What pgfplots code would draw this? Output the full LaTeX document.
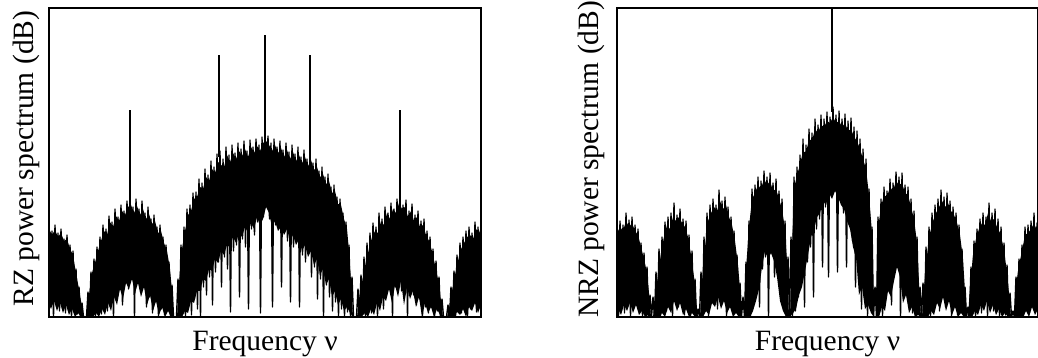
\documentclass[border=0pt]{standalone}
\usepackage{fontspec}
\setmainfont{Liberation Serif}
\usepackage{pgfplots}
\usepackage{pgfplotstable}
\pgfplotsset{compat=1.18}

% RZ spectrum (x, y in picture units; alternating local max / local min)
\pgfplotstableread[row sep=\\]{
x y\\
0 94\\ 1.5 10\\ 3 86\\ 4.5 0\\ 6 92\\ 7.5 15\\ 9 84\\ 10.5 6\\ 12 88\\ 13.5 20\\ 15 78\\ 16.5 4\\ 18 82\\ 19.5 12\\ 21 72\\ 22.5 0\\ 24 66\\ 25.5 10\\ 27 48\\ 28.5 3\\ 30 30\\ 31.5 0\\ 33 14\\ 34.5 0\\ 36 0\\ 37.5 0\\
39 25\\ 40.5 0\\ 42 45\\ 43.5 5\\ 45 58\\ 46.5 0\\ 48 70\\ 49.5 8\\ 51 80\\ 52.5 3\\ 54 92\\ 55.5 14\\ 57 88\\ 58.5 6\\ 60 101\\ 61.5 18\\ 63 95\\ 64.5 0\\ 66 108\\ 67.5 22\\ 69 100\\ 70.5 30\\ 72 112\\ 73.5 12\\ 75 106\\ 76.5 35\\ 78 116\\ 79.5 28\\ 81 124\\ 82.5 40\\ 84 110\\ 85.5 0\\ 87 118\\ 88.5 36\\ 90 108\\ 91.5 25\\ 93 116\\ 94.5 38\\ 96 104\\ 97.5 10\\ 99 110\\ 100.5 20\\ 102 98\\ 103.5 4\\ 105 102\\ 106.5 15\\ 108 90\\ 109.5 0\\ 111 92\\ 112.5 8\\ 114 80\\ 115.5 2\\ 117 72\\ 118.5 10\\ 120 55\\ 121.5 0\\ 123 32\\ 124.5 0\\ 126 0\\ 127.5 0\\
129 38\\ 130.5 0\\ 132 72\\ 133.5 4\\ 135 90\\ 136.5 0\\ 138 108\\ 139.5 10\\ 141 112\\ 142.5 2\\ 144 124\\ 145.5 18\\ 147 125\\ 148.5 8\\ 150 138\\ 151.5 0\\ 153 134\\ 154.5 30\\ 156 148\\ 157.5 22\\ 159 142\\ 160.5 40\\ 162 156\\ 163.5 12\\ 165 150\\ 166.5 45\\ 168 163\\ 169.5 55\\ 171 166\\ 172.5 30\\ 174 158\\ 175.5 60\\ 177 170\\ 178.5 48\\ 180 162\\ 181.5 5\\ 183 172\\ 184.5 66\\ 186 164\\ 187.5 72\\ 189 174\\ 190.5 20\\ 192 168\\ 193.5 78\\ 195 176\\ 196.5 70\\ 198 166\\ 199.5 8\\ 201 177\\ 202.5 88\\ 204 170\\ 205.5 82\\ 207 178\\ 208.5 95\\ 210 172\\ 211.5 4\\ 213 180\\ 214.5 100\\ 216 186\\ 217.5 122\\ 219 181\\ 220.5 98\\ 222 174\\ 223.5 10\\ 225 178\\ 226.5 92\\ 228 170\\ 229.5 110\\ 231 176\\ 232.5 30\\ 234 167\\ 235.5 84\\ 237 174\\ 238.5 76\\ 240 165\\ 241.5 15\\ 243 172\\ 244.5 70\\ 246 163\\ 247.5 74\\ 249 170\\ 250.5 10\\ 252 160\\ 253.5 62\\ 255 167\\ 256.5 55\\ 258 158\\ 259.5 64\\ 261 165\\ 262.5 40\\ 264 154\\ 265.5 50\\ 267 158\\ 268.5 18\\ 270 146\\ 271.5 38\\ 273 150\\ 274.5 0\\ 276 140\\ 277.5 32\\ 279 143\\ 280.5 20\\ 282 130\\ 283.5 6\\ 285 132\\ 286.5 15\\ 288 120\\ 289.5 0\\ 291 118\\ 292.5 8\\ 294 104\\ 295.5 0\\ 297 95\\ 298.5 5\\ 300 72\\ 301.5 0\\ 303 40\\ 304.5 0\\ 306 0\\ 307.5 0\\
309 28\\ 310.5 0\\ 312 42\\ 313.5 2\\ 315 60\\ 316.5 0\\ 318 74\\ 319.5 10\\ 321 84\\ 322.5 4\\ 324 94\\ 325.5 16\\ 327 90\\ 328.5 0\\ 330 104\\ 331.5 20\\ 333 98\\ 334.5 8\\ 336 110\\ 337.5 26\\ 339 104\\ 340.5 34\\ 342 114\\ 343.5 0\\ 345 108\\ 346.5 30\\ 348 118\\ 349.5 38\\ 351 124\\ 352.5 26\\ 354 112\\ 355.5 42\\ 357 117\\ 358.5 0\\ 360 106\\ 361.5 32\\ 363 113\\ 364.5 22\\ 366 102\\ 367.5 12\\ 369 106\\ 370.5 18\\ 372 96\\ 373.5 0\\ 375 98\\ 376.5 10\\ 378 86\\ 379.5 4\\ 381 80\\ 382.5 12\\ 384 68\\ 385.5 0\\ 387 56\\ 388.5 6\\ 390 40\\ 391.5 0\\ 393 18\\ 394.5 0\\ 396 0\\ 397.5 0\\
399 12\\ 400.5 0\\ 402 30\\ 403.5 2\\ 405 46\\ 406.5 0\\ 408 62\\ 409.5 10\\ 411 74\\ 412.5 4\\ 414 80\\ 415.5 14\\ 417 86\\ 418.5 0\\ 420 90\\ 421.5 8\\ 423 84\\ 424.5 16\\ 426 95\\ 427.5 5\\ 429 90\\ 430.5 12\\ 432 96\\
}\rzdata

% NRZ spectrum
\pgfplotstableread[row sep=\\]{
x y\\
0 90\\ 1.5 0\\ 3 96\\ 4.5 12\\ 6 92\\ 7.5 4\\ 9 104\\ 10.5 18\\ 12 97\\ 13.5 0\\ 15 100\\ 16.5 10\\ 18 92\\ 19.5 20\\ 21 88\\ 22.5 6\\ 24 74\\ 25.5 0\\ 27 64\\ 28.5 8\\ 30 50\\ 31.5 0\\ 33 22\\ 34.5 0\\
36 20\\ 37.5 0\\ 39 45\\ 40.5 4\\ 42 68\\ 43.5 0\\ 45 80\\ 46.5 14\\ 48 95\\ 49.5 6\\ 51 100\\ 52.5 20\\ 54 104\\ 55.5 0\\ 57 114\\ 58.5 24\\ 60 102\\ 61.5 10\\ 63 108\\ 64.5 18\\ 66 98\\ 67.5 2\\ 69 96\\ 70.5 12\\ 72 82\\ 73.5 0\\ 75 66\\ 76.5 6\\ 78 38\\ 79.5 0\\ 81 8\\ 82.5 0\\
84 45\\ 85.5 0\\ 87 80\\ 88.5 6\\ 90 104\\ 91.5 0\\ 93 112\\ 94.5 16\\ 96 118\\ 97.5 24\\ 99 112\\ 100.5 8\\ 102 127\\ 103.5 30\\ 105 116\\ 106.5 18\\ 108 120\\ 109.5 0\\ 111 110\\ 112.5 22\\ 114 100\\ 115.5 6\\ 117 86\\ 118.5 12\\ 120 62\\ 121.5 0\\ 123 34\\ 124.5 0\\
126 20\\ 127.5 0\\ 129 55\\ 130.5 4\\ 132 96\\ 133.5 0\\ 135 128\\ 136.5 15\\ 138 132\\ 139.5 30\\ 141 140\\ 142.5 10\\ 144 136\\ 145.5 48\\ 147 146\\ 148.5 60\\ 150 140\\ 151.5 0\\ 153 144\\ 154.5 66\\ 156 134\\ 157.5 40\\ 159 138\\ 160.5 55\\ 162 126\\ 163.5 20\\ 165 118\\ 166.5 8\\ 168 96\\ 169.5 0\\ 171 60\\ 172.5 0\\
174 80\\ 175.5 0\\ 177 140\\ 178.5 6\\ 180 150\\ 181.5 20\\ 183 162\\ 184.5 38\\ 186 178\\ 187.5 10\\ 189 172\\ 190.5 55\\ 192 188\\ 193.5 70\\ 195 184\\ 196.5 20\\ 198 198\\ 199.5 88\\ 201 192\\ 202.5 98\\ 204 202\\ 205.5 50\\ 207 198\\ 208.5 110\\ 210 205\\ 211.5 40\\ 213 200\\ 214.5 120\\ 216 210\\ 217.5 126\\ 219 202\\ 220.5 45\\ 222 206\\ 223.5 118\\ 225 198\\ 226.5 104\\ 228 203\\ 229.5 50\\ 231 196\\ 232.5 92\\ 234 199\\ 235.5 76\\ 237 190\\ 238.5 30\\ 240 186\\ 241.5 52\\ 243 178\\ 244.5 8\\ 246 168\\ 247.5 30\\ 249 158\\ 250.5 0\\ 252 128\\ 253.5 10\\ 255 90\\ 256.5 0\\
258 30\\ 259.5 0\\ 261 100\\ 262.5 6\\ 264 118\\ 265.5 0\\ 267 130\\ 268.5 24\\ 270 126\\ 271.5 40\\ 273 138\\ 274.5 12\\ 276 134\\ 277.5 58\\ 279 145\\ 280.5 66\\ 282 140\\ 283.5 0\\ 285 144\\ 286.5 50\\ 288 132\\ 289.5 36\\ 291 130\\ 292.5 14\\ 294 118\\ 295.5 4\\ 297 106\\ 298.5 0\\ 300 80\\ 301.5 6\\ 303 30\\ 304.5 0\\
306 34\\ 307.5 0\\ 309 70\\ 310.5 4\\ 312 90\\ 313.5 0\\ 315 104\\ 316.5 14\\ 318 112\\ 319.5 22\\ 321 118\\ 322.5 6\\ 324 127\\ 325.5 26\\ 327 120\\ 328.5 10\\ 330 124\\ 331.5 20\\ 333 116\\ 334.5 0\\ 336 110\\ 337.5 12\\ 339 104\\ 340.5 2\\ 342 92\\ 343.5 8\\ 345 68\\ 346.5 0\\ 348 30\\ 349.5 0\\
351 10\\ 352.5 0\\ 354 50\\ 355.5 2\\ 357 76\\ 358.5 0\\ 360 88\\ 361.5 12\\ 363 98\\ 364.5 4\\ 366 104\\ 367.5 18\\ 369 100\\ 370.5 0\\ 372 114\\ 373.5 14\\ 375 104\\ 376.5 6\\ 378 108\\ 379.5 20\\ 381 98\\ 382.5 0\\ 384 90\\ 385.5 10\\ 387 74\\ 388.5 2\\ 390 52\\ 391.5 0\\ 393 24\\ 394.5 0\\
396 6\\ 397.5 0\\ 399 40\\ 400.5 0\\ 402 58\\ 403.5 6\\ 405 72\\ 406.5 0\\ 408 90\\ 409.5 12\\ 411 92\\ 412.5 4\\ 414 96\\ 415.5 16\\ 417 104\\ 418.5 8\\ 420 94\\ 421.5 90\\
}\nrzdata

\pgfplotsset{
  specaxis/.style={
    scale only axis, height=154.5pt,
    ymin=0, ymax=309,
    xtick=\empty, ytick=\empty,
    axis line style={line width=1pt},
    label style={font=\fontsize{14.75}{17}\selectfont},
    xlabel={Frequency ν},
    xlabel style={at={(axis description cs:0.5,-0.107)}, anchor=base},
  },
  spec/.style={black, line width=0.7pt, line join=round, mark=none},
  core/.style={fill=black, draw=none, mark=none},
  tone/.style={black, line width=0.7pt, mark=none},
}

\begin{document}
\begin{tikzpicture}
\begin{axis}[specaxis, at={(0pt,0pt)}, anchor=south west,
  width=216pt, xmin=0, xmax=432,
  ylabel={RZ power spectrum (dB)},
  ylabel style={at={(axis description cs:-0.037,0.513)}, anchor=base, rotate=0}]
  % solid core of the spectrum (jagged upper edge, then jagged floor)
  \addplot[core] coordinates {
    (0,88) (3,82) (6,87) (9,80) (12,84) (15,76) (18,78) (21,68) (24,62) (27,44) (30,28) (33,10) (35,0) (37,0)
    (40,22) (43,44) (46,54) (49,66) (52,76) (55,86) (58,82) (61,95) (64,90) (67,101) (70,96) (73,106) (76,102) (79,110)
    (82,112) (85,104) (88,111) (91,102) (94,108) (97,98) (100,103) (103,93) (106,96) (109,84) (112,86) (115,74) (118,66)
    (121,48) (123,26) (125,0) (128,0)
    (130,34) (133,68) (136,86) (139,102) (142,106) (145,118) (148,120) (151,130) (154,128) (157,140) (160,136) (163,148)
    (166,144) (169,155) (172,152) (175,150) (178,162) (181,155) (184,164) (187,158) (190,166) (193,161) (196,168) (199,160)
    (202,170) (205,164) (208,171) (211,166) (214,174) (217,176) (220,172) (223,166) (226,172) (229,164) (232,169) (235,160)
    (238,167) (241,158) (244,165) (247,156) (250,162) (253,154) (256,160) (259,151) (262,157) (265,147) (268,150) (271,140)
    (274,143) (277,133) (280,136) (283,124) (286,126) (289,113) (292,112) (295,98) (298,88) (300,66) (302,36) (304,0) (308,0)
    (311,24) (314,40) (317,56) (320,68) (323,80) (326,86) (329,84) (332,96) (335,92) (338,104) (341,98) (344,108) (347,104)
    (350,114) (353,108) (356,110) (359,100) (362,106) (365,96) (368,100) (371,90) (374,92) (377,82) (380,76) (383,66)
    (386,52) (389,38) (392,16) (394,0) (398,0)
    (400,8) (403,26) (406,42) (409,56) (412,68) (415,74) (418,80) (421,82) (424,78) (427,88) (430,84) (432,90)
    (432,12) (429,4) (426,14) (423,6) (420,10) (417,0) (414,8) (411,2) (408,5) (405,0) (402,0) (398,0)
    (394,0) (391,2) (388,8) (385,0) (382,10) (379,4) (376,14) (373,0) (370,20) (367,10) (364,26) (361,18) (358,30) (355,12)
    (352,36) (349,20) (346,32) (343,14) (340,28) (337,16) (334,20) (331,6) (328,14) (325,2) (322,8) (319,0) (316,4) (312,0) (308,0)
    (304,0) (301,4) (298,10) (295,6) (292,18) (289,12) (286,26) (283,20) (280,38) (277,32) (274,48) (271,42) (268,58) (265,52)
    (262,66) (259,60) (256,72) (253,66) (250,78) (247,72) (244,82) (241,76) (238,88) (235,82) (232,90) (229,86) (226,96)
    (223,90) (220,104) (217,110) (214,98) (211,92) (208,100) (205,88) (202,94) (199,84) (196,90) (193,80) (190,84) (187,74)
    (184,80) (181,70) (178,72) (175,62) (172,66) (169,54) (166,58) (163,46) (160,48) (157,36) (154,38) (151,26) (148,26)
    (145,14) (142,16) (139,4) (136,6) (133,0) (128,0)
    (125,0) (122,0) (119,6) (116,0) (113,10) (110,2) (107,16) (104,6) (101,22) (98,12) (95,30) (92,20) (89,34) (86,24)
    (83,38) (80,28) (77,34) (74,18) (71,28) (68,12) (65,20) (62,6) (59,14) (56,2) (53,8) (50,0) (47,4) (44,0) (40,0) (37,0)
    (35,0) (32,0) (29,4) (26,0) (23,8) (20,2) (17,12) (14,4) (11,14) (8,6) (5,16) (2,8) (0,14)};
  \addplot[spec] table[x=x,y=y]{\rzdata};
  \addplot[tone] coordinates {(81,118) (81,207)};
  \addplot[tone] coordinates {(170,160) (170,262)};
  \addplot[tone] coordinates {(216,180) (216,282)};
  \addplot[tone] coordinates {(261,160) (261,262)};
  \addplot[tone] coordinates {(351,118) (351,207)};
\end{axis}
\begin{axis}[specaxis, at={(284pt,0pt)}, anchor=south west,
  width=210.5pt, xmin=0, xmax=421,
  ylabel={NRZ power spectrum (dB)},
  ylabel style={at={(axis description cs:-0.043,0.51)}, anchor=base, rotate=0}]
  \addplot[core] coordinates {
    (0,84) (3,90) (6,86) (9,96) (12,90) (15,94) (18,86) (21,82) (24,70) (27,58) (30,44) (32,24) (34,0) (36,0)
    (38,18) (41,42) (44,64) (47,80) (50,92) (53,88) (56,100) (59,96) (62,100) (65,94) (68,90) (71,80) (74,62) (77,40) (79,16) (81,0) (83,0)
    (85,36) (88,70) (91,96) (94,104) (97,110) (100,106) (103,116) (106,108) (109,112) (112,100) (115,92) (118,76) (121,52) (123,28) (125,0) (127,0)
    (129,48) (132,90) (135,118) (138,124) (141,132) (144,128) (147,138) (150,132) (153,136) (156,126) (159,128) (162,118) (165,108) (168,88) (170,56) (172,0) (173,0)
    (175,70) (177,128) (180,142) (183,152) (186,166) (189,164) (192,178) (195,176) (198,188) (201,184) (204,192) (207,190) (210,196)
    (213,194) (216,200) (219,194) (222,196) (225,190) (228,194) (231,186) (234,188) (237,180) (240,176) (243,168) (246,158)
    (249,148) (252,122) (255,84) (257,0) (259,0)
    (261,88) (264,110) (267,122) (270,120) (273,130) (276,126) (279,136) (282,132) (285,134) (288,124) (291,122) (294,110) (297,98) (300,74) (302,34) (304,0) (305,0)
    (307,30) (310,62) (313,84) (316,96) (319,104) (322,110) (325,116) (328,110) (331,114) (334,106) (337,102) (340,94) (343,82) (346,58) (348,26) (350,0) (351,0)
    (353,30) (356,62) (359,78) (362,88) (365,94) (368,92) (371,104) (374,96) (377,98) (380,90) (383,84) (386,72) (389,52) (392,24) (394,0) (397,0)
    (399,32) (402,52) (405,66) (408,82) (411,84) (414,88) (417,94) (420,86) (421,86)
    (421,8) (418,2) (415,10) (412,0) (409,6) (406,0) (402,0) (397,0)
    (394,0) (391,0) (388,4) (385,0) (382,8) (379,2) (376,12) (373,4) (370,16) (367,6) (364,12) (361,2) (358,6) (355,0) (352,0)
    (350,0) (347,0) (344,4) (341,0) (338,10) (335,2) (332,16) (329,6) (326,20) (323,8) (320,14) (317,2) (314,6) (311,0) (306,0)
    (304,0) (301,2) (298,0) (295,10) (292,4) (289,22) (286,14) (283,40) (280,50) (277,36) (274,20) (271,26) (268,6) (265,10) (262,0) (259,0)
    (257,0) (254,4) (251,12) (248,8) (245,30) (242,22) (239,60) (236,70) (233,88) (230,96) (227,108) (224,112) (221,120) (218,126)
    (215,118) (212,124) (209,112) (206,116) (203,104) (200,100) (197,88) (194,80) (191,62) (188,46) (185,30) (182,22) (179,8) (176,4) (173,0)
    (172,0) (169,0) (166,6) (163,16) (160,40) (157,56) (154,64) (151,58) (148,66) (145,50) (142,28) (139,16) (136,6) (133,0) (128,0)
    (125,0) (122,0) (119,4) (116,0) (113,10) (110,4) (107,16) (104,8) (101,20) (98,10) (95,14) (92,2) (89,6) (86,0) (83,0)
    (81,0) (78,0) (75,4) (72,0) (69,8) (66,2) (63,14) (60,6) (57,16) (54,4) (51,10) (48,0) (45,4) (42,0) (38,0)
    (36,0) (34,0) (31,2) (28,0) (25,6) (22,2) (19,12) (16,4) (13,14) (10,6) (7,12) (4,2) (0,10)};
  \addplot[spec] table[x=x,y=y]{\nrzdata};
  \addplot[tone] coordinates {(215,205) (215,309)};
\end{axis}
\pgfresetboundingbox
\path (-24.5pt,-20.5pt) rectangle (494.5pt,158.5pt);
\end{tikzpicture}
\end{document}
